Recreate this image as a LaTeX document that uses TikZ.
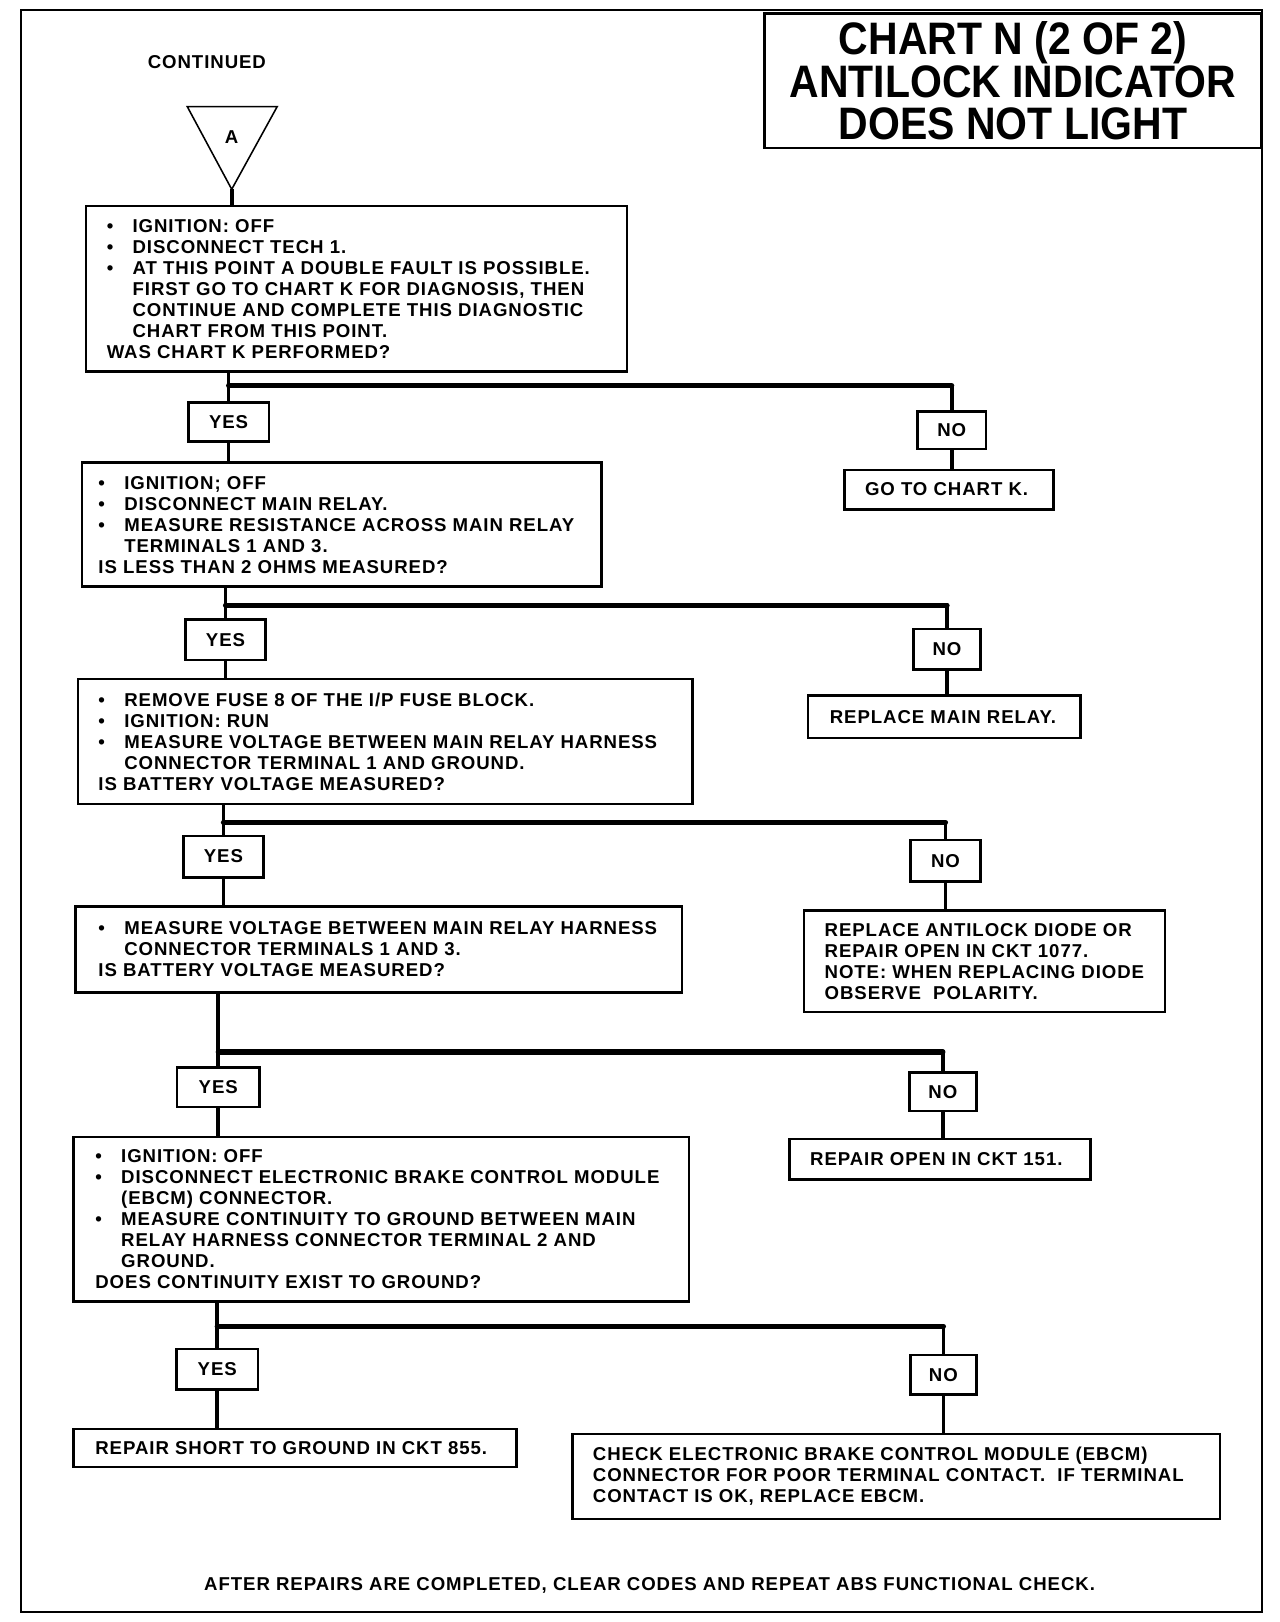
\documentclass[tikz,border=0pt]{standalone}
\usepackage{fontspec}
\newfontfamily\chartfont{Liberation Sans}[LetterSpace=5]
\newfontfamily\titlefont{Liberation Sans}[FakeStretch=0.9]
\newcommand\bul{\makebox[25pt][l]{\textbullet}}
\newcommand\ind{\hspace*{25pt}}
\begin{document}
\begin{tikzpicture}[x=1pt,y=-1pt,
  every node/.style={font=\chartfont\bfseries\fontsize{18}{20.3}\selectfont, inner sep=0pt},
  box/.style={draw, line width=2.5pt, anchor=north west},
  txt/.style={anchor=west, align=left},
  yn/.style={draw, line width=2.5pt, align=center},
  conn/.style={line width=3.5pt},
  branch/.style={line width=5pt, line cap=round},
  frame/.style={line width=2pt}]
\useasboundingbox (0,0) rectangle (1237,1568);
\draw[frame] (20,10) rectangle (1220,1558);

% title
\node[box, align=center, minimum width=480pt, minimum height=130pt,
  font=\titlefont\bfseries\fontsize{44}{41}\selectfont] (title) at (738,12)
  {CHART N (2 OF 2)\\ANTILOCK INDICATOR\\DOES NOT LIGHT};

\node (cont) at (200,60) {CONTINUED};
\draw[line width=1.5pt] (181,103) -- (268,103) -- (224,183) -- cycle;
\node (A) at (224,133) {A};
\coordinate (apex) at (224,183);

% step boxes
\node[box, minimum width=523pt, minimum height=160pt] (b1) at (82,198) {};
\node[txt] (t1) at ([xshift=21pt]b1.west) {%
\bul IGNITION: OFF\\
\bul DISCONNECT TECH 1.\\
\bul AT THIS POINT A DOUBLE FAULT IS POSSIBLE.\\
\ind FIRST GO TO CHART K FOR DIAGNOSIS, THEN\\
\ind CONTINUE AND COMPLETE THIS DIAGNOSTIC\\
\ind CHART FROM THIS POINT.\\
WAS CHART K PERFORMED?};

\node[box, minimum width=502pt, minimum height=120pt] (b2) at (78,446) {};
\node[txt] (t2) at ([xshift=17pt]b2.west) {%
\bul IGNITION; OFF\\
\bul DISCONNECT MAIN RELAY.\\
\bul MEASURE RESISTANCE ACROSS MAIN RELAY\\
\ind TERMINALS 1 AND 3.\\
IS LESS THAN 2 OHMS MEASURED?};

\node[box, minimum width=594pt, minimum height=121pt] (b3) at (74,655) {};
\node[txt] (t3) at ([xshift=21pt]b3.west) {%
\bul REMOVE FUSE 8 OF THE I/P FUSE BLOCK.\\
\bul IGNITION: RUN\\
\bul MEASURE VOLTAGE BETWEEN MAIN RELAY HARNESS\\
\ind CONNECTOR TERMINAL 1 AND GROUND.\\
IS BATTERY VOLTAGE MEASURED?};

\node[box, minimum width=586pt, minimum height=83pt] (b4) at (72,875) {};
\node[txt] (t4) at ([xshift=23pt]b4.west) {%
\bul MEASURE VOLTAGE BETWEEN MAIN RELAY HARNESS\\
\ind CONNECTOR TERMINALS 1 AND 3.\\
IS BATTERY VOLTAGE MEASURED?};

\node[box, minimum width=595pt, minimum height=159pt] (b5) at (70,1098) {};
\node[txt] (t5) at ([xshift=22pt]b5.west) {%
\bul IGNITION: OFF\\
\bul DISCONNECT ELECTRONIC BRAKE CONTROL MODULE\\
\ind (EBCM) CONNECTOR.\\
\bul MEASURE CONTINUITY TO GROUND BETWEEN MAIN\\
\ind RELAY HARNESS CONNECTOR TERMINAL 2 AND\\
\ind GROUND.\\
DOES CONTINUITY EXIST TO GROUND?};

% result boxes
\node[box, minimum width=202pt, minimum height=38pt] (r1) at (815,453) {};
\node[txt] (s1) at ([xshift=21pt]r1.west) {GO TO CHART K.};
\node[box, minimum width=263pt, minimum height=41pt] (r2) at (780,671) {};
\node[txt] (s2) at ([xshift=22pt]r2.west) {REPLACE MAIN RELAY.};
\node[box, minimum width=349pt, minimum height=98pt] (r3) at (776,879) {};
\node[txt] (s3) at ([xshift=21pt]r3.west) {%
REPLACE ANTILOCK DIODE OR\\
REPAIR OPEN IN CKT 1077.\\
NOTE: WHEN REPLACING DIODE\\
OBSERVE\ \ POLARITY.};
\node[box, minimum width=291pt, minimum height=39pt] (r4) at (762,1100) {};
\node[txt] (s4) at ([xshift=21pt]r4.west) {REPAIR OPEN IN CKT 151.};
\node[box, minimum width=428pt, minimum height=37pt] (r5) at (70,1380) {};
\node[txt] (s5) at ([xshift=22pt]r5.west) {REPAIR SHORT TO GROUND IN CKT 855.};
\node[box, minimum width=626pt, minimum height=82pt] (r6) at (552,1385) {};
\node[txt] (s6) at ([xshift=21pt]r6.west) {%
CHECK ELECTRONIC BRAKE CONTROL MODULE (EBCM)\\
CONNECTOR FOR POOR TERMINAL CONTACT.\ \ IF TERMINAL\\
CONTACT IS OK, REPLACE EBCM.};

% yes / no
\node[yn, minimum width=78pt, minimum height=38pt] (yes1) at (221,408) {YES};
\node[yn, minimum width=66pt, minimum height=36pt] (no1) at (920,416) {NO};
\node[yn, minimum width=77pt, minimum height=39pt] (yes2) at (218,618.5) {YES};
\node[yn, minimum width=65pt, minimum height=39pt] (no2) at (915.5,627.5) {NO};
\node[yn, minimum width=77pt, minimum height=40pt] (yes3) at (216,828) {YES};
\node[yn, minimum width=68pt, minimum height=40pt] (no3) at (914,832) {NO};
\node[yn, minimum width=80pt, minimum height=38pt] (yes4) at (211,1051) {YES};
\node[yn, minimum width=65pt, minimum height=37pt] (no4) at (911.5,1055.5) {NO};
\node[yn, minimum width=79pt, minimum height=39pt] (yes5) at (210,1323.5) {YES};
\node[yn, minimum width=64pt, minimum height=38pt] (no5) at (912,1329) {NO};

\node (foot) at (628,1533) {AFTER REPAIRS ARE COMPLETED, CLEAR CODES AND REPEAT ABS FUNCTIONAL CHECK.};

% connectors
\draw[conn] (apex) -- (apex |- b1.north);

\coordinate (j1) at (yes1 |- 0,373);
\coordinate (j2) at (yes2 |- 0,585);
\coordinate (j3) at (yes3 |- 0,795);
\coordinate (j4) at (yes4 |- 0,1017);
\coordinate (j5) at (yes5 |- 0,1282);

\foreach \b/\j/\y/\n/\nb/\r in {b1/j1/yes1/no1/b2/r1, b2/j2/yes2/no2/b3/r2, b3/j3/yes3/no3/b4/r3, b4/j4/yes4/no4/b5/r4, b5/j5/yes5/no5/r5/r6}{
  \draw[conn] (\j |- \b.south) -- (\j) -- (\y.north);
  \draw[branch] (\j) -- (\j -| \n);
  \draw[conn] (\j -| \n) -- (\n.north);
  \draw[conn] (\y.south) -- (\y |- \nb.north);
  \draw[conn] (\n.south) -- (\n |- \r.north);
}
\end{tikzpicture}
\end{document}
